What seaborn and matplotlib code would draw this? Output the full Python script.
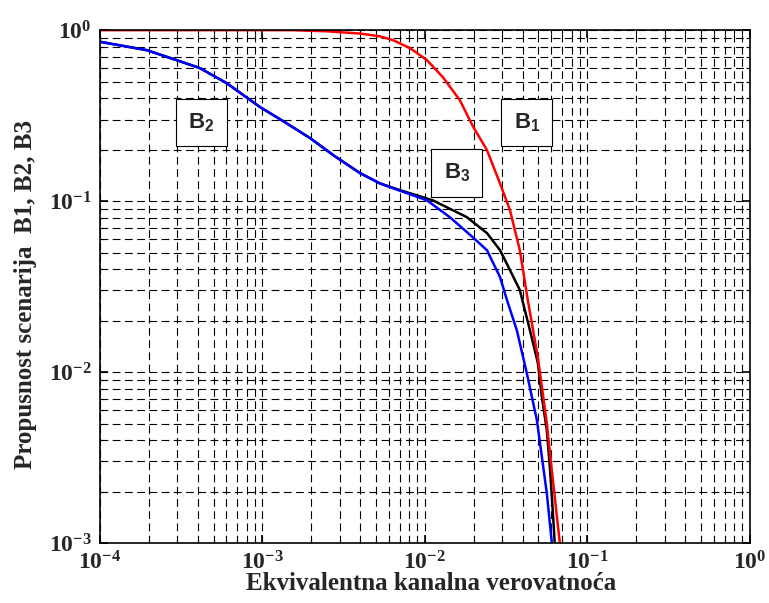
import numpy as np
import pandas as pd
import matplotlib
matplotlib.use("Agg")
import matplotlib.pyplot as plt
import matplotlib.ticker as mticker
import seaborn as sns

sns.set_style("ticks")
plt.rcParams['font.family'] = ['Liberation Serif', 'DejaVu Serif']
plt.rcParams['mathtext.fontset'] = 'custom'
plt.rcParams['mathtext.bf'] = 'Liberation Sans:bold'
plt.rcParams['mathtext.rm'] = 'Liberation Serif:bold'

# ---------------------------
# data
# ---------------------------
b1_x = [1e-4, 1e-3, 1.5e-3, 2.5e-3, 4.0e-3, 5.3e-3, 6.35e-3, 8.1e-3, 1.03e-2, 1.29e-2,
        1.64e-2, 1.97e-2, 2.41e-2, 2.9e-2, 3.34e-2, 3.84e-2, 4.3e-2, 4.96e-2, 5.63e-2, 6.14e-2,
        6.77e-2]
b1_y = [1.0, 1.0, 1.0, 0.985, 0.955, 0.92, 0.875, 0.785, 0.668, 0.531,
        0.39, 0.275, 0.199, 0.127, 0.0886, 0.0517, 0.0264, 0.0122, 0.00503, 0.00233,
        0.001]

b2_x = [1e-4, 1.94e-4, 2.96e-4, 4.12e-4, 6.02e-4, 9.66e-4, 1.37e-3, 1.96e-3, 2.79e-3, 3.98e-3,
        5.28e-3, 6.35e-3, 1.03e-2, 1.425e-2, 1.97e-2, 2.41e-2, 2.9e-2, 3.2e-2, 3.68e-2, 4.24e-2,
        4.89e-2, 5.63e-2, 6.05e-2]
b2_y = [0.855, 0.764, 0.668, 0.6, 0.49, 0.355, 0.29, 0.234, 0.183, 0.146,
        0.127, 0.119, 0.101, 0.0805, 0.0615, 0.0516, 0.036, 0.0264, 0.0176, 0.00986,
        0.00524, 0.00196, 0.001]

b3_x = [1e-4, 1.94e-4, 2.96e-4, 4.12e-4, 6.02e-4, 9.66e-4, 1.37e-3, 1.96e-3, 2.79e-3, 3.98e-3,
        5.28e-3, 7.02e-3, 1.12e-2, 1.81e-2, 2.41e-2, 2.9e-2, 3.34e-2, 3.84e-2, 4.43e-2, 4.96e-2,
        5.25e-2, 5.63e-2, 5.88e-2, 6.14e-2, 6.3e-2]
b3_y = [0.855, 0.764, 0.668, 0.6, 0.49, 0.355, 0.29, 0.234, 0.183, 0.146,
        0.127, 0.116, 0.101, 0.0806, 0.065, 0.0517, 0.0395, 0.0302, 0.0176, 0.0113,
        0.00714, 0.00458, 0.00278, 0.0015, 0.001]

df = pd.concat([
    pd.DataFrame({"x": b3_x, "y": b3_y, "scenario": "B3"}),
    pd.DataFrame({"x": b2_x, "y": b2_y, "scenario": "B2"}),
    pd.DataFrame({"x": b1_x, "y": b1_y, "scenario": "B1"}),
], ignore_index=True)

colors = {"B1": "#ff0000", "B2": "#0000ff", "B3": "#000000"}

# ---------------------------
# plot
# ---------------------------
fig = plt.figure(figsize=(7.69, 6.03), dpi=100)
ax = fig.add_axes([0.130, 0.0995, 0.845, 0.8505])

sns.lineplot(data=df, x="x", y="y", hue="scenario", palette=colors,
             hue_order=["B3", "B2", "B1"], sort=False, estimator=None,
             linewidth=1.8, legend=False, ax=ax)

ax.set_xscale("log")
ax.set_yscale("log")
ax.set_xlim(1e-4, 1)
ax.set_ylim(1e-3, 1)

ax.xaxis.set_major_locator(mticker.LogLocator(base=10, numticks=10))
ax.yaxis.set_major_locator(mticker.LogLocator(base=10, numticks=10))
ax.xaxis.set_minor_locator(mticker.LogLocator(base=10, subs=np.arange(2, 10), numticks=50))
ax.yaxis.set_minor_locator(mticker.LogLocator(base=10, subs=np.arange(2, 10), numticks=50))
ax.xaxis.set_minor_formatter(mticker.NullFormatter())
ax.yaxis.set_minor_formatter(mticker.NullFormatter())

ax.grid(True, which="both", color="black", linestyle=(0, (7, 4)), linewidth=0.8)
ax.tick_params(which="both", direction="in", top=True, right=True, color="black")
ax.tick_params(which="major", length=6, width=1.2, labelsize=17, pad=6)
ax.tick_params(which="minor", length=3, width=0.8)
for lab in ax.get_xticklabels() + ax.get_yticklabels():
    lab.set_fontweight("bold")
for s in ax.spines.values():
    s.set_linewidth(1.2)
    s.set_color("black")

ax.set_xlabel("Ekvivalentna kanalna verovatnoća", fontsize=18, fontweight="bold")
ax.set_ylabel("Propusnost scenarija  B1, B2, B3", fontsize=18, fontweight="bold")
ax.xaxis.set_label_coords(0.51, -0.057)
ax.yaxis.set_label_coords(-0.097, 0.485)

box = dict(boxstyle="square,pad=0.55", facecolor="white", edgecolor="black", linewidth=0.8)
ax.text(4.22e-4, 0.288, r"$\mathbf{B_2}$", fontsize=16, ha="center", va="center", bbox=box, zorder=5)
ax.text(4.25e-2, 0.288, r"$\mathbf{B_1}$", fontsize=16, ha="center", va="center", bbox=box, zorder=5)
ax.text(1.57e-2, 0.146, r"$\mathbf{B_3}$", fontsize=16, ha="center", va="center", bbox=box, zorder=5)

plt.savefig("out.png", dpi=100)
